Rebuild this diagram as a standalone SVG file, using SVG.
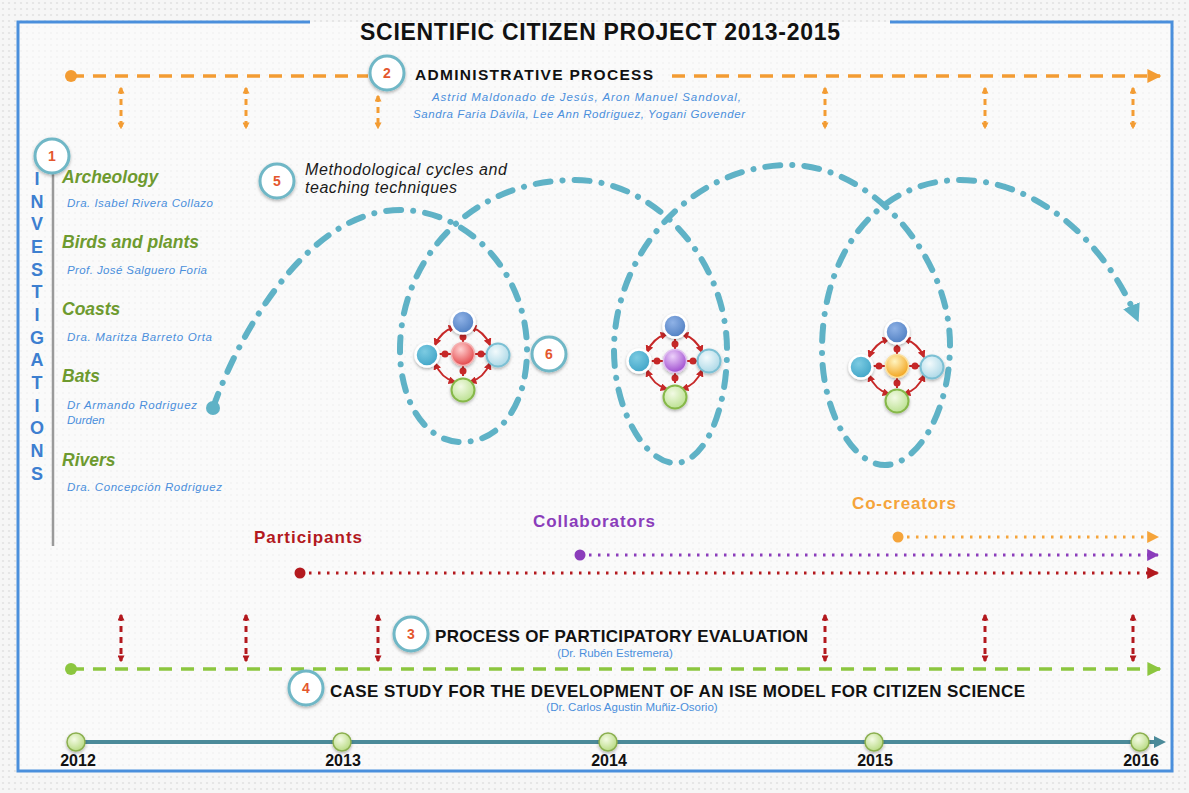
<svg xmlns="http://www.w3.org/2000/svg" width="1189" height="793" viewBox="0 0 1189 793">
<defs>
<pattern id="dots" width="6" height="6" patternUnits="userSpaceOnUse"><rect width="6" height="6" fill="#f6f6f6"/><circle cx="3" cy="3" r="1.1" fill="#e3e3e3"/></pattern>
<filter id="sh" x="-40%" y="-40%" width="180%" height="180%"><feDropShadow dx="0" dy="1.5" stdDeviation="1.6" flood-color="#000" flood-opacity="0.3"/></filter>
<radialGradient id="gTop" cx="0.4" cy="0.35" r="0.7"><stop offset="0" stop-color="#8fb2e6"/><stop offset="1" stop-color="#4c7cc0"/></radialGradient>
<radialGradient id="gLeft" cx="0.4" cy="0.35" r="0.7"><stop offset="0" stop-color="#7ccbe2"/><stop offset="1" stop-color="#3ea3c6"/></radialGradient>
<radialGradient id="gRight" cx="0.4" cy="0.35" r="0.7"><stop offset="0" stop-color="#f2fafc"/><stop offset="1" stop-color="#a9d7e6"/></radialGradient>
<radialGradient id="gBot" cx="0.4" cy="0.35" r="0.7"><stop offset="0" stop-color="#f2fae4"/><stop offset="1" stop-color="#b9e08e"/></radialGradient>
<radialGradient id="gRed" cx="0.4" cy="0.3" r="0.7"><stop offset="0" stop-color="#ffd0d0"/><stop offset="1" stop-color="#e4494c"/></radialGradient>
<radialGradient id="gPur" cx="0.4" cy="0.3" r="0.7"><stop offset="0" stop-color="#ecd0fa"/><stop offset="1" stop-color="#a04fd0"/></radialGradient>
<radialGradient id="gOra" cx="0.4" cy="0.3" r="0.7"><stop offset="0" stop-color="#fff4c0"/><stop offset="1" stop-color="#f2a51f"/></radialGradient>
<radialGradient id="gYear" cx="0.4" cy="0.35" r="0.7"><stop offset="0" stop-color="#f4fbe4"/><stop offset="1" stop-color="#b5d97e"/></radialGradient>
<marker id="aOr" viewBox="0 0 10 10" refX="9" refY="5" markerWidth="14" markerHeight="14" markerUnits="userSpaceOnUse" orient="auto"><path d="M0,0 L10,5 L0,10 z" fill="#f39c33"/></marker>
<marker id="aGr" viewBox="0 0 10 10" refX="9" refY="5" markerWidth="14" markerHeight="14" markerUnits="userSpaceOnUse" orient="auto"><path d="M0,0 L10,5 L0,10 z" fill="#8cc63f"/></marker>
<marker id="aOrS" viewBox="0 0 10 10" refX="8" refY="5" markerWidth="7" markerHeight="7" markerUnits="userSpaceOnUse" orient="auto-start-reverse"><path d="M0,0 L10,5 L0,10 z" fill="#f39c33"/></marker>
<marker id="aRdS" viewBox="0 0 10 10" refX="8" refY="5" markerWidth="7" markerHeight="7" markerUnits="userSpaceOnUse" orient="auto-start-reverse"><path d="M0,0 L10,5 L0,10 z" fill="#b3191e"/></marker>
<marker id="aRd" viewBox="0 0 10 10" refX="8" refY="5" markerWidth="8" markerHeight="8" markerUnits="userSpaceOnUse" orient="auto-start-reverse"><path d="M0,0 L10,5 L0,10 z" fill="#c62828"/></marker>
<marker id="aCo" viewBox="0 0 10 10" refX="9" refY="5" markerWidth="12" markerHeight="12" markerUnits="userSpaceOnUse" orient="auto"><path d="M0,0 L10,5 L0,10 z" fill="#f5a43a"/></marker>
<marker id="aPu" viewBox="0 0 10 10" refX="9" refY="5" markerWidth="12" markerHeight="12" markerUnits="userSpaceOnUse" orient="auto"><path d="M0,0 L10,5 L0,10 z" fill="#8b3dbb"/></marker>
<marker id="aRe" viewBox="0 0 10 10" refX="9" refY="5" markerWidth="12" markerHeight="12" markerUnits="userSpaceOnUse" orient="auto"><path d="M0,0 L10,5 L0,10 z" fill="#b3191e"/></marker>
<marker id="aTe" viewBox="0 0 10 10" refX="5" refY="5" markerWidth="18" markerHeight="18" markerUnits="userSpaceOnUse" orient="auto"><path d="M0,0 L10,5 L0,10 z" fill="#5fb2c6"/></marker>
<marker id="aTl" viewBox="0 0 10 10" refX="5" refY="5" markerWidth="12" markerHeight="12" markerUnits="userSpaceOnUse" orient="auto"><path d="M0,0 L10,5 L0,10 z" fill="#4b8a99"/></marker>
<style>
text{font-family:"Liberation Sans",Arial,sans-serif;}
.num{fill:#fff;stroke:#6fb7c6;stroke-width:3;filter:url(#sh);}
.numt{font-weight:bold;font-size:14px;fill:#e4572e;text-anchor:middle;}
.head{font-weight:bold;fill:#111;}
.blue{fill:#4a8fdc;font-style:italic;font-size:11.5px;}
.topic{fill:#6e9a2f;font-weight:bold;font-style:italic;font-size:17.5px;}
.inv{fill:#3d7fd0;font-weight:bold;font-size:18px;text-anchor:middle;}
.vo{stroke:#f39c33;stroke-width:3;stroke-dasharray:6 5;fill:none;marker-start:url(#aOrS);marker-end:url(#aOrS);}
.vr{stroke:#b3191e;stroke-width:3;stroke-dasharray:6 5;fill:none;marker-start:url(#aRdS);marker-end:url(#aRdS);}
.ra{stroke:#c62828;stroke-width:2;fill:none;marker-start:url(#aRd);marker-end:url(#aRd);}
.rl{stroke:#c62828;stroke-width:2;}
.rd{fill:#c62828;}
.year{font-weight:bold;font-size:16px;fill:#111;text-anchor:middle;}
.yc{fill:url(#gYear);stroke:#8cb050;stroke-width:1.5;filter:url(#sh);}
.role{font-size:17px;font-weight:bold;}
</style>
</defs>
<rect width="1189" height="793" fill="url(#dots)"/>
<rect x="18" y="22" width="1154" height="749" fill="#fdfdfd" opacity="0.6"/>
<path d="M310,22 H18 V771 H1172 V22 H890" fill="none" stroke="#4a8fdc" stroke-width="3"/>
<text x="360" y="40" class="head" font-size="23" textLength="480">SCIENTIFIC CITIZEN PROJECT 2013-2015</text>

<g id="connectors">
<line x1="71" y1="76" x2="368" y2="76" stroke="#f39c33" stroke-width="3.5" stroke-dasharray="13 9"/>
<line x1="672" y1="76" x2="1160" y2="76" stroke="#f39c33" stroke-width="3.5" stroke-dasharray="13 9" marker-end="url(#aOr)"/>
<circle cx="71" cy="76" r="6" fill="#f39c33"/>
<line class="vo" x1="121" y1="88" x2="121" y2="128"/>
<line class="vo" x1="246" y1="88" x2="246" y2="128"/>
<line class="vo" x1="378" y1="96" x2="378" y2="128" marker-start="none"/>
<line class="vo" x1="825" y1="88" x2="825" y2="128"/>
<line class="vo" x1="985" y1="88" x2="985" y2="128"/>
<line class="vo" x1="1133" y1="88" x2="1133" y2="128"/>
<line x1="53" y1="172" x2="53" y2="546" stroke="#9a9a9a" stroke-width="2.5"/>
<path d="M213,408 C240,330 310,210 400,210 C470,210 527,275 527,350 C527,405 500,442 462,442 C424,442 400,400 400,350 C400,260 470,180 575,180 C655,180 727,260 727,350 C727,410 705,463 675,463 C645,463 614,410 614,350 C614,255 690,165 790,165 C870,165 950,255 950,345 C950,410 918,465 885,465 C852,465 822,410 822,350 C822,250 880,180 960,180 C1040,180 1105,245 1135,314" fill="none" stroke="#5fb2c6" stroke-width="6" stroke-linecap="round" stroke-dasharray="15 12 0.1 12" marker-end="url(#aTe)"/>
<circle cx="213" cy="408" r="7" fill="#5fb2c6"/>
<line x1="898" y1="537" x2="1158" y2="537" stroke="#f5a43a" stroke-width="3" stroke-dasharray="2.5 6.5" marker-end="url(#aCo)"/>
<circle cx="898" cy="537" r="5.5" fill="#f5a43a"/>
<line x1="580" y1="555" x2="1158" y2="555" stroke="#8b3dbb" stroke-width="3" stroke-dasharray="2.5 6.5" marker-end="url(#aPu)"/>
<circle cx="580" cy="555" r="5.5" fill="#8b3dbb"/>
<line x1="300" y1="573" x2="1158" y2="573" stroke="#b3191e" stroke-width="3" stroke-dasharray="2.5 6.5" marker-end="url(#aRe)"/>
<circle cx="300" cy="573" r="5.5" fill="#b3191e"/>
<line class="vr" x1="121" y1="615" x2="121" y2="661"/>
<line class="vr" x1="246" y1="615" x2="246" y2="661"/>
<line class="vr" x1="378" y1="615" x2="378" y2="661"/>
<line class="vr" x1="825" y1="615" x2="825" y2="661"/>
<line class="vr" x1="985" y1="615" x2="985" y2="661"/>
<line class="vr" x1="1133" y1="615" x2="1133" y2="661"/>
<line x1="71" y1="669" x2="1160" y2="669" stroke="#8cc63f" stroke-width="3.5" stroke-dasharray="13 9" marker-end="url(#aGr)"/>
<circle cx="71" cy="669" r="6" fill="#8cc63f"/>
<line x1="76" y1="742" x2="1160" y2="742" stroke="#4b8a99" stroke-width="4" marker-end="url(#aTl)"/>
</g>

<g id="n2-admin">
<circle class="num" cx="387" cy="73" r="17"/><text class="numt" x="387" y="78">2</text>
<text x="415" y="80" class="head" font-size="15.5" textLength="238">ADMINISTRATIVE PROCESS</text>
<text x="432" y="101" class="blue" font-size="12" textLength="309">Astrid Maldonado de Jesús, Aron Manuel Sandoval,</text>
<text x="413" y="118" class="blue" font-size="12" textLength="332">Sandra Faria Dávila, Lee Ann Rodriguez, Yogani Govender</text>
</g>

<g id="n1-investigations">
<circle class="num" cx="52" cy="156" r="17"/><text class="numt" x="52" y="161">1</text>
<text class="inv" x="37" y="185">I</text>
<text class="inv" x="37" y="208">N</text>
<text class="inv" x="37" y="230">V</text>
<text class="inv" x="37" y="253">E</text>
<text class="inv" x="37" y="276">S</text>
<text class="inv" x="37" y="298">T</text>
<text class="inv" x="37" y="321">I</text>
<text class="inv" x="37" y="344">G</text>
<text class="inv" x="37" y="366">A</text>
<text class="inv" x="37" y="389">T</text>
<text class="inv" x="37" y="412">I</text>
<text class="inv" x="37" y="434">O</text>
<text class="inv" x="37" y="457">N</text>
<text class="inv" x="37" y="480">S</text>
</g>
<g id="t-archeology"><text class="topic" x="62" y="183">Archeology</text><text class="blue" x="67" y="207" textLength="146">Dra. Isabel Rivera Collazo</text></g>
<g id="t-birds"><text class="topic" x="62" y="248">Birds and plants</text><text class="blue" x="67" y="274" textLength="140">Prof. José Salguero Foria</text></g>
<g id="t-coasts"><text class="topic" x="62" y="315">Coasts</text><text class="blue" x="67" y="341" textLength="145">Dra. Maritza Barreto Orta</text></g>
<g id="t-bats"><text class="topic" x="62" y="382">Bats</text><text class="blue" x="67" y="409" textLength="130">Dr Armando Rodriguez</text><text class="blue" x="67" y="424">Durden</text></g>
<g id="t-rivers"><text class="topic" x="62" y="466">Rivers</text><text class="blue" x="67" y="491" textLength="155">Dra. Concepción Rodriguez</text></g>

<g id="n5-cycles">
<circle class="num" cx="277" cy="181" r="17"/><text class="numt" x="277" y="186">5</text>
<text x="305" y="175" font-size="16" font-style="italic" fill="#1a1a1a" textLength="202">Methodological cycles and</text>
<text x="305" y="193" font-size="16" font-style="italic" fill="#1a1a1a" textLength="152">teaching techniques</text>
</g>

<g id="cluster1" transform="translate(463,354)">
<path class="ra" d="M7,-27 Q21,-23 27,-9"/><path class="ra" d="M-28,-9 Q-22,-23 -8,-27"/>
<path class="ra" d="M-28,9 Q-22,24 -8,28"/><path class="ra" d="M7,28 Q21,24 27,9"/>
<line class="rl" x1="0" y1="-22" x2="0" y2="22"/><line class="rl" x1="-24" y1="0" x2="25" y2="0"/>
<circle class="rd" cx="0" cy="-17" r="3.5"/><circle class="rd" cx="-18" cy="0" r="3.5"/><circle class="rd" cx="18" cy="0" r="3.5"/><circle class="rd" cx="0" cy="17" r="3.5"/>
<circle cx="0" cy="-32" r="11.5" fill="url(#gTop)" stroke="#fff" stroke-width="2.5" filter="url(#sh)"/>
<circle cx="-36" cy="1" r="11.5" fill="url(#gLeft)" stroke="#fff" stroke-width="2.5" filter="url(#sh)"/>
<circle cx="35" cy="1" r="11.5" fill="url(#gRight)" stroke="#7cc0d4" stroke-width="2" filter="url(#sh)"/>
<circle cx="0" cy="36" r="11.5" fill="url(#gBot)" stroke="#86b848" stroke-width="2" filter="url(#sh)"/>
<circle cx="0" cy="0" r="11.5" fill="url(#gRed)" stroke="#f4b0b0" stroke-width="1.5" filter="url(#sh)"/>
</g>
<g id="n6">
<circle class="num" cx="549" cy="354" r="17"/><text class="numt" x="549" y="359">6</text>
</g>

<g id="cluster2" transform="translate(675,361)">
<path class="ra" d="M7,-27 Q21,-23 27,-9"/><path class="ra" d="M-28,-9 Q-22,-23 -8,-27"/>
<path class="ra" d="M-28,9 Q-22,24 -8,28"/><path class="ra" d="M7,28 Q21,24 27,9"/>
<line class="rl" x1="0" y1="-22" x2="0" y2="22"/><line class="rl" x1="-24" y1="0" x2="25" y2="0"/>
<circle class="rd" cx="0" cy="-17" r="3.5"/><circle class="rd" cx="-18" cy="0" r="3.5"/><circle class="rd" cx="18" cy="0" r="3.5"/><circle class="rd" cx="0" cy="17" r="3.5"/>
<circle cx="0" cy="-35" r="11.5" fill="url(#gTop)" stroke="#fff" stroke-width="2.5" filter="url(#sh)"/>
<circle cx="-36" cy="0" r="11.5" fill="url(#gLeft)" stroke="#fff" stroke-width="2.5" filter="url(#sh)"/>
<circle cx="34" cy="0" r="11.5" fill="url(#gRight)" stroke="#7cc0d4" stroke-width="2" filter="url(#sh)"/>
<circle cx="0" cy="36" r="11.5" fill="url(#gBot)" stroke="#86b848" stroke-width="2" filter="url(#sh)"/>
<circle cx="0" cy="0" r="11.5" fill="url(#gPur)" stroke="#e0c0f0" stroke-width="1.5" filter="url(#sh)"/>
</g>

<g id="cluster3" transform="translate(897,366)">
<path class="ra" d="M7,-27 Q21,-23 27,-9"/><path class="ra" d="M-28,-9 Q-22,-23 -8,-27"/>
<path class="ra" d="M-28,9 Q-22,24 -8,28"/><path class="ra" d="M7,28 Q21,24 27,9"/>
<line class="rl" x1="0" y1="-22" x2="0" y2="22"/><line class="rl" x1="-24" y1="0" x2="25" y2="0"/>
<circle class="rd" cx="0" cy="-17" r="3.5"/><circle class="rd" cx="-18" cy="0" r="3.5"/><circle class="rd" cx="18" cy="0" r="3.5"/><circle class="rd" cx="0" cy="17" r="3.5"/>
<circle cx="0" cy="-34" r="11.5" fill="url(#gTop)" stroke="#fff" stroke-width="2.5" filter="url(#sh)"/>
<circle cx="-36" cy="1" r="11.5" fill="url(#gLeft)" stroke="#fff" stroke-width="2.5" filter="url(#sh)"/>
<circle cx="35" cy="1" r="11.5" fill="url(#gRight)" stroke="#7cc0d4" stroke-width="2" filter="url(#sh)"/>
<circle cx="0" cy="35" r="11.5" fill="url(#gBot)" stroke="#86b848" stroke-width="2" filter="url(#sh)"/>
<circle cx="0" cy="0" r="11.5" fill="url(#gOra)" stroke="#fbe0a0" stroke-width="1.5" filter="url(#sh)"/>
</g>

<g id="roles">
<text x="852" y="509" class="role" fill="#f5a43a" textLength="104">Co-creators</text>
<text x="533" y="527" class="role" fill="#8b3dbb" textLength="122">Collaborators</text>
<text x="254" y="543" class="role" fill="#b3191e" textLength="108">Participants</text>
</g>

<g id="n3-evaluation">
<circle class="num" cx="411" cy="634" r="17"/><text class="numt" x="411" y="639">3</text>
<text x="435" y="642" class="head" font-size="17" textLength="373">PROCESS OF PARTICIPATORY EVALUATION</text>
<text x="615" y="657" font-size="11.5" fill="#4a8fdc" text-anchor="middle">(Dr. Rubén Estremera)</text>
</g>

<g id="n4-casestudy">
<circle class="num" cx="306" cy="688" r="17"/><text class="numt" x="306" y="693">4</text>
<text x="330" y="697" class="head" font-size="17" textLength="695">CASE STUDY FOR THE DEVELOPMENT OF AN ISE MODEL FOR CITIZEN SCIENCE</text>
<text x="632" y="711" font-size="11.5" fill="#4a8fdc" text-anchor="middle">(Dr. Carlos Agustin Muñiz-Osorio)</text>
</g>

<g id="timeline">
<circle class="yc" cx="76" cy="742" r="9"/><text class="year" x="78" y="766">2012</text>
<circle class="yc" cx="342" cy="742" r="9"/><text class="year" x="343" y="766">2013</text>
<circle class="yc" cx="608" cy="742" r="9"/><text class="year" x="609" y="766">2014</text>
<circle class="yc" cx="874" cy="742" r="9"/><text class="year" x="875" y="766">2015</text>
<circle class="yc" cx="1140" cy="742" r="9"/><text class="year" x="1141" y="766">2016</text>
</g>
</svg>
